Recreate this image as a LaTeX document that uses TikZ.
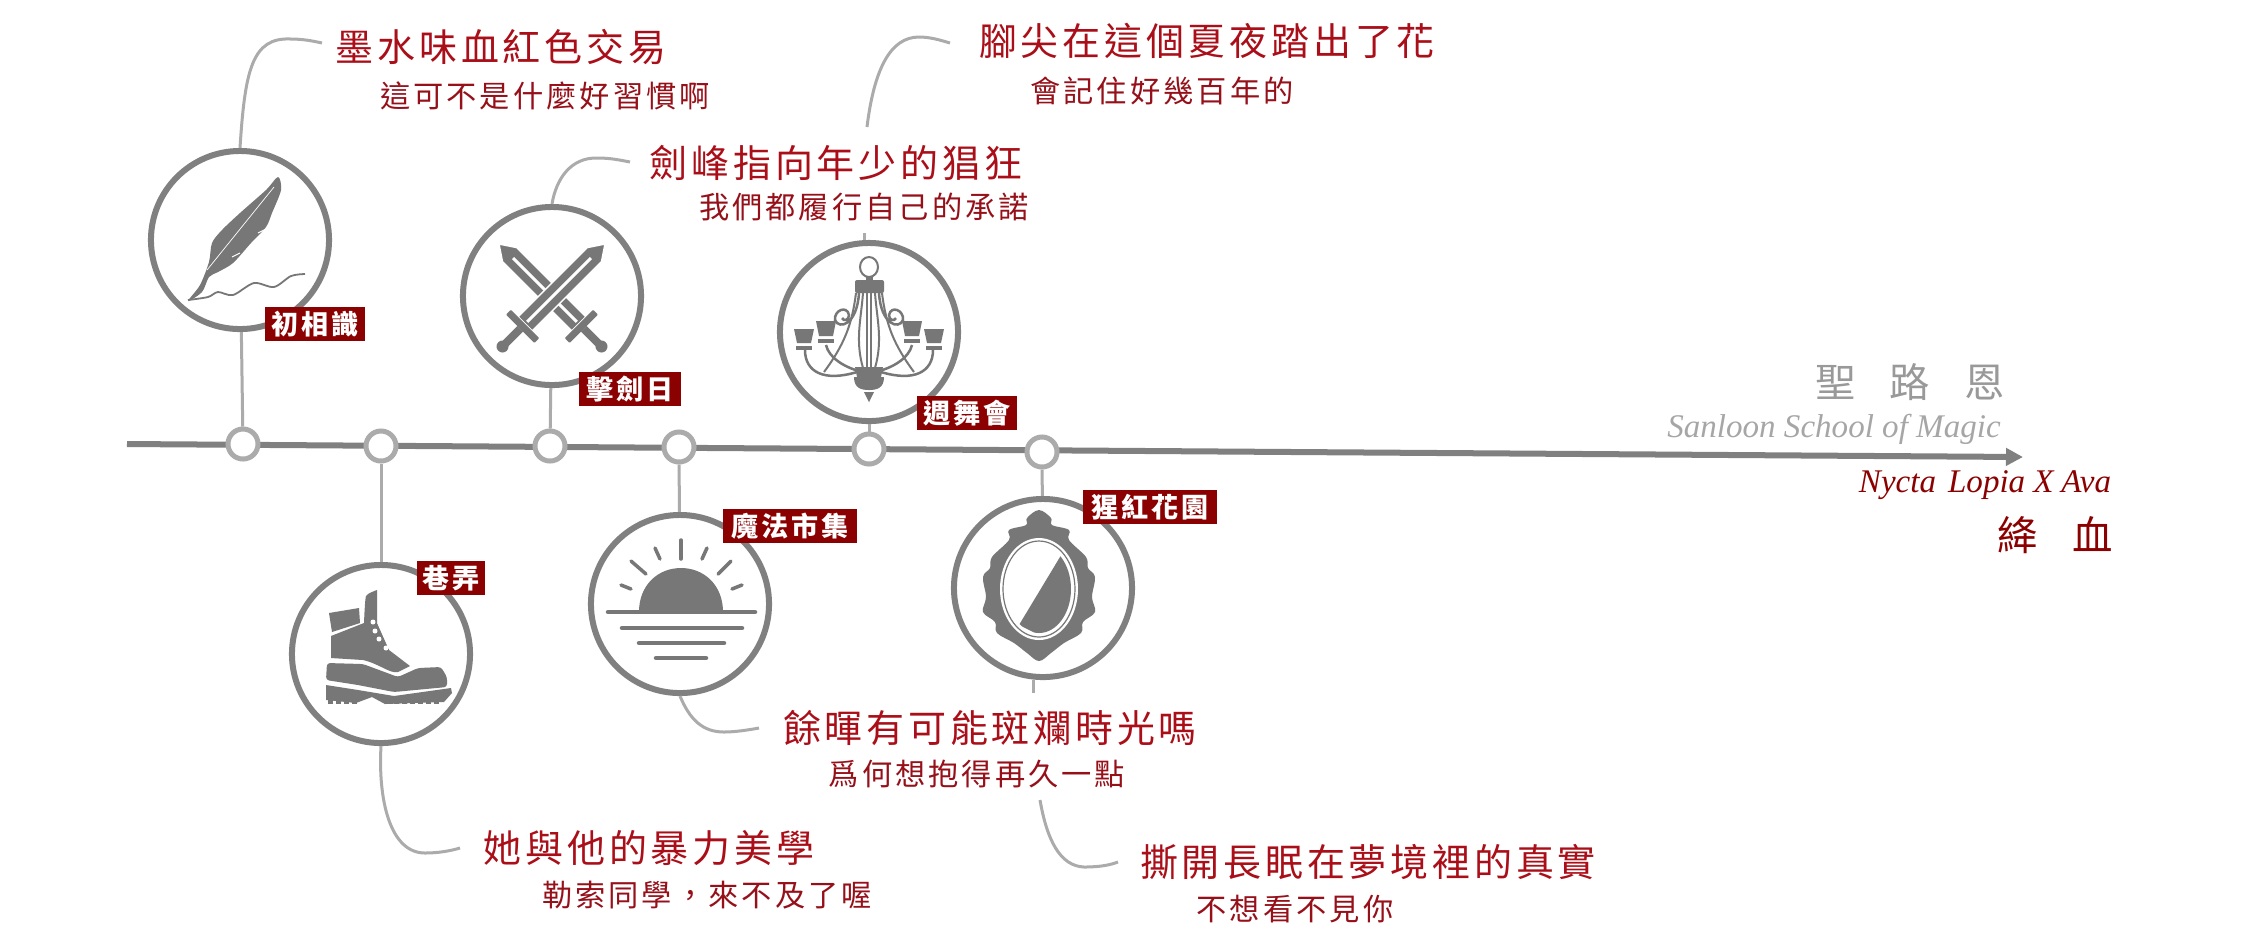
\documentclass[tikz,border=0pt]{standalone}
\usepackage{fontspec}
\usetikzlibrary{arrows.meta}
\newfontfamily\cjk[LetterSpace=10]{Noto Sans CJK TC}
\newfontfamily\cjkplain{Noto Sans CJK TC}
\newfontfamily\latinfont{Liberation Serif}
\definecolor{titlered}{HTML}{AA0F19}
\definecolor{subred}{HTML}{96101A}
\definecolor{tagred}{HTML}{8B0000}
\definecolor{ringgray}{HTML}{808080}
\definecolor{icongray}{HTML}{777777}
\definecolor{linkgray}{HTML}{ABABAB}
\tikzset{
  bigring/.style={circle,draw=ringgray,fill=white,line width=0.06cm,minimum size=1.78cm,inner sep=0pt},
  dotring/.style={circle,draw=linkgray,fill=white,line width=0.05cm,minimum size=0.3cm,inner sep=0pt},
  linkline/.style={draw=linkgray,line width=0.03cm},
  titletext/.style={text=titlered,inner sep=0pt,font=\cjk\fontsize{10.8pt}{10.8pt}\selectfont},
  subtext/.style={text=subred,inner sep=0pt,font=\cjk\fontsize{8.6pt}{8.6pt}\selectfont},
  tagbox/.style={fill=tagred,text=white,inner sep=0pt,minimum height=0.34cm,font=\cjk\bfseries\fontsize{7.7pt}{7.7pt}\selectfont},
  iconline/.style={draw=icongray,line width=0.025cm,line cap=round}
}
\begin{document}
\begin{tikzpicture}[x=0.01cm,y=-0.01cm]
  \useasboundingbox (0,0) rectangle (2256,947);
  \coordinate (linestart) at (127,444);
  \coordinate (lineend) at (2023,457);
  \draw[draw=ringgray,line width=0.06cm,-{Triangle[length=0.17cm,width=0.17cm]}] (linestart) -- (lineend);
  \foreach \nm/\px/\py in {inkring/240/240,swordring/552/296,ballring/869/332,bootring/381/654,sunring/680/604,mirrorring/1043/588}
    \node[bigring] (\nm) at (\px,\py) {};
  \foreach \nm/\px/\py in {inkdot/243/444,bootdot/381/446,sworddot/550/446,sundot/679/447,balldot/869/449,mirrordot/1042/452}
    \node[dotring] (\nm) at (\px,\py) {};
  \foreach \a/\b in {inkring/inkdot,swordring/sworddot,ballring/balldot,bootring/bootdot,sunring/sundot,mirrorring/mirrordot}
    \draw[linkline] (\a) -- (\b);
  \coordinate (inkend) at (322,43);
  \coordinate (swordend) at (630,162);
  \coordinate (ballstub) at (864,233);
  \coordinate (ballup) at (867,127);
  \coordinate (ballend) at (950,43);
  \coordinate (bootend) at (460,848);
  \coordinate (sunend) at (759,728);
  \coordinate (mirrorstub) at (1033,693);
  \coordinate (mirrordown) at (1040,800);
  \coordinate (mirrorend) at (1118,862);
  \draw[linkline] (inkring.north) .. controls (245,70) and (252,37) .. (291,39) .. controls (303,39) and (313,41) .. (inkend);
  \draw[linkline] (swordring.north) .. controls (556,180) and (570,157) .. (598,158) .. controls (610,158) and (620,160) .. (swordend);
  \draw[linkline] (ballstub |- ballring.north) -- (ballstub);
  \draw[linkline] (ballup) .. controls (874,70) and (890,37) .. (919,37) .. controls (930,37) and (940,40) .. (ballend);
  \draw[linkline] (bootring.south) .. controls (378,800) and (390,853) .. (425,853) .. controls (438,853) and (450,851) .. (bootend);
  \draw[linkline] (sunring.south) .. controls (690,720) and (703,732) .. (724,732) .. controls (735,732) and (748,730) .. (sunend);
  \draw[linkline] (mirrorstub |- mirrorring.south) -- (mirrorstub);
  \draw[linkline] (mirrordown) .. controls (1047,840) and (1060,866) .. (1084,867) .. controls (1100,867) and (1110,865) .. (mirrorend);
  % feather
  \fill[icongray] plot[smooth cycle,tension=0.5] coordinates {(278,177) (281,190) (272,213) (266,227) (251,243) (233,263) (218,272) (209,277) (202,292) (188,301) (200,285) (209,262) (212,243) (222,230) (240,213) (266,190)};
  \draw[white,line width=0.007cm] (274,187) -- (207,270);
  \draw[white,line width=0.01cm] (268,228) -- (258,233);
  \draw[white,line width=0.01cm] (240,253) -- (232,257);
  \draw[icongray,line width=0.018cm] plot[smooth] coordinates {(188,300) (208,297) (218,292) (233,295) (254,283) (274,287) (291,276) (305,274)};
  % swords
  \foreach \ang in {-45,-135}{
    \begin{scope}[shift={(552,297)},rotate=\ang]
      \filldraw[fill=icongray,draw=white,line width=0.015cm] (-75,0) -- (-60,-10) -- (38,-10) -- (38,10) -- (-60,10) -- cycle;
      \draw[white,line width=0.03cm] (-55,0) -- (35,0);
      \fill[icongray,rounded corners=0.01cm] (38,-20) rectangle (45,20);
      \fill[icongray] (45,-4) rectangle (66,4);
      \fill[icongray] (70,0) circle (6);
    \end{scope}
  }
  % chandelier
  \draw[icongray,line width=0.02cm] (869,267) ellipse [x radius=9,y radius=10];
  \fill[icongray,rounded corners=0.02cm] (855,280) rectangle (884,293);
  \fill[icongray] (866,277) rectangle (873,280);
  \foreach \s in {-1,1}{
    \begin{scope}[shift={(869,0)},xscale=\s]
      \draw[icongray,line width=0.02cm] (6,293) .. controls (8,320) and (14,340) .. (6,368);
      \draw[icongray,line width=0.02cm] (2,293) -- (2,368);
      \draw[icongray,line width=0.025cm] (10,293) .. controls (12,325) and (30,330) .. (34,320) .. controls (35,310) and (22,305) .. (20,315) .. controls (20,320) and (25,322) .. (27,318);
      \draw[icongray,line width=0.02cm] (13,293) .. controls (17,325) and (25,345) .. (45,372);
      \draw[icongray,line width=0.025cm] (43,345) .. controls (40,358) and (24,368) .. (6,372);
      \draw[icongray,line width=0.025cm] (64,350) .. controls (64,372) and (45,382) .. (12,372);
      \fill[icongray] (33,321) -- (53,321) -- (50,336) -- (36,336) -- cycle;
      \fill[icongray] (35,339) rectangle (51,343);
      \fill[icongray] (55,329) -- (75,329) -- (72,343) -- (58,343) -- cycle;
      \fill[icongray] (57,346) rectangle (73,350);
      \fill[icongray] (0,367) -- (14,367) -- (12,377) -- (0,377) -- cycle;
      \fill[icongray] (0,377) -- (15,377) .. controls (15,388) and (8,390) .. (0,390) -- cycle;
      \fill[icongray] (0,392) -- (5,392) -- (0,402) -- cycle;
    \end{scope}
  }
  % boot
  \fill[icongray] (329,613) -- (359,608) -- (360,623) -- (332,632) -- cycle;
  \fill[icongray] plot[smooth,tension=0.3] coordinates {(377,590) (366,596) (364,623)} -- (331,636) -- (331,658) -- (363,660) .. controls (380,664) and (390,674) .. (398,672) -- (410,666) -- (389,650) -- (377,623) -- cycle;
  \fill[icongray,rounded corners=0.03cm] (327,663) -- (363,664) -- (398,677) -- (418,668) -- (441,667) -- (447,677) -- (447,687) -- (394,692) -- (358,685) -- (326,680) -- cycle;
  \fill[icongray] (326,685) -- (358,690) -- (394,696) -- (451,688) -- (452,693) -- (444,702) -- (385,704) -- (372,697) -- (356,703) -- (326,700) -- cycle;
  \foreach \tx in {328,336,344,352,386,394,402,410,418,426,434}
    \fill[icongray] (\tx,700) rectangle (\tx+5,704);
  \foreach \ex/\ey in {373/622,375/631,379/639,386/648}
    \fill[white] (\ex,\ey) circle (2.5);
  % sunset
  \fill[icongray] (639,612) .. controls (639,585) and (658,568) .. (681,568) .. controls (704,568) and (723,585) .. (723,612) -- cycle;
  \foreach \xa/\xb/\yy in {608/755/612,622/742/628,639/724/643,656/706/658}
    \draw[icongray,line width=0.045cm,line cap=round] (\xa,\yy) -- (\xb,\yy);
  \foreach \xa/\ya/\xb/\yb in {681/540/681/559,655/548/660/559,707/548/702/559,631/561/646/574,731/561/718/574,621/585/631/589,742/585/732/589}
    \draw[iconline,line width=0.035cm] (\xa,\ya) -- (\xb,\yb);
  % mirror
  \fill[icongray] plot[smooth cycle,tension=0.6] coordinates {(1039,510) (1051,518) (1052,525) (1069,530) (1069,540) (1086,557) (1088,568) (1095,577) (1092,597) (1095,612) (1083,622) (1081,633) (1064,643) (1051,653) (1039,661) (1027,653) (1014,643) (997,633) (995,622) (983,612) (986,597) (983,577) (990,568) (992,557) (1009,540) (1009,530) (1026,525) (1027,518)};
  \fill[white] (1039,589) ellipse [x radius=39,y radius=51];
  \draw[icongray,line width=0.012cm] (1039,589) ellipse [x radius=36,y radius=48];
  \begin{scope}
    \clip (1039,589) ellipse [x radius=32,y radius=44];
    \fill[icongray] (1063,552) -- (1019,625) -- (1090,660) -- (1090,530) -- cycle;
  \end{scope}
  % labels on rings
  \node[tagbox,minimum width=1cm] (inktag) at (315,324) {初相識};
  \node[tagbox,minimum width=1.01cm] (swordtag) at (630,389) {擊劍日};
  \node[tagbox,minimum width=0.99cm] (balltag) at (967,413) {週舞會};
  \node[tagbox,minimum width=0.67cm] (boottag) at (451,578) {巷弄};
  \node[tagbox,minimum width=1.33cm] (suntag) at (790,526) {魔法市集};
  \node[tagbox,minimum width=1.34cm] (mirrortag) at (1150,507) {猩紅花園};
  % titles
  \node[titletext] (inktitle) at (501,47) {墨水味血紅色交易};
  \node[subtext] (inksub) at (545,96) {這可不是什麼好習慣啊};
  \node[titletext] (swordtitle) at (836,163) {劍峰指向年少的猖狂};
  \node[subtext] (swordsub) at (864,207) {我們都履行自己的承諾};
  \node[titletext] (balltitle) at (1207,41) {腳尖在這個夏夜踏出了花};
  \node[subtext] (ballsub) at (1162,91) {會記住好幾百年的};
  \node[titletext] (boottitle) at (649,848) {她與他的暴力美學};
  \node[subtext] (bootsub) at (707,895) {勒索同學\char"FF0C 來不及了喔};
  \node[titletext] (suntitle) at (990,728) {餘暉有可能斑斕時光嗎};
  \node[subtext] (sunsub) at (977,774) {爲何想抱得再久一點};
  \node[titletext] (mirrortitle) at (1368,862) {撕開長眠在夢境裡的真實};
  \node[subtext] (mirrorsub) at (1295,909) {不想看不見你};
  % corner text
  \node[text=gray!80,inner sep=0pt,font=\cjkplain\fontsize{11.5pt}{11.5pt}\selectfont] (school) at (1910,382) {聖\hspace{0.34cm}路\hspace{0.34cm}恩};
  \node[text=gray!70,inner sep=0pt,font=\latinfont\itshape\fontsize{9.4pt}{9.4pt}\selectfont] (schoolen) at (1834,429) {Sanloon School of Magic};
  \node[text=tagred,inner sep=0pt,font=\latinfont\itshape\fontsize{9.4pt}{9.4pt}\selectfont] (authors) at (1985,485) {Nycta\hspace{0.12cm}Lopia\hspace{0.08cm}X\hspace{0.08cm}Ava};
  \node[text=tagred,inner sep=0pt,font=\cjkplain\fontsize{11.5pt}{11.5pt}\selectfont] (booktitle) at (2055,535) {絳\hspace{0.34cm}血};
\end{tikzpicture}
\end{document}
